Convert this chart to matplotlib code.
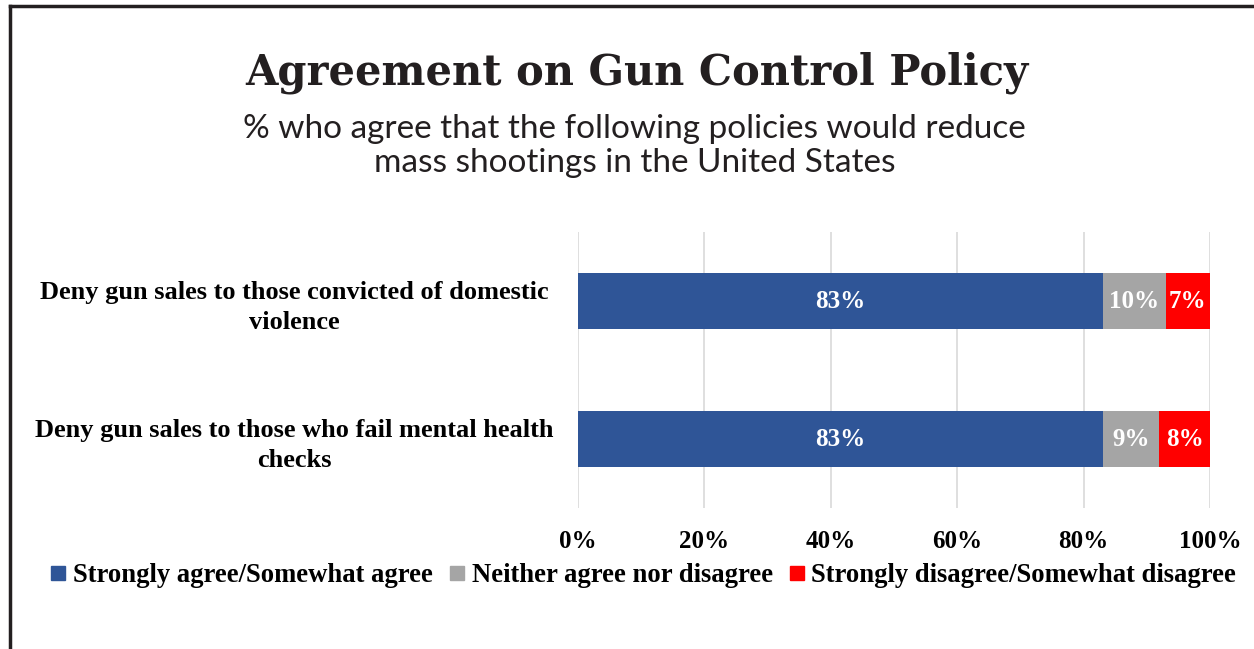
import matplotlib.pyplot as plt
from matplotlib.lines import Line2D
from matplotlib.ticker import PercentFormatter

# survey results, in percent
policies = ["Deny gun sales to those convicted of domestic\nviolence",
            "Deny gun sales to those who fail mental health\nchecks"]
agree = [83, 83]
neutral = [10, 9]
disagree = [7, 8]

series_names = ["Strongly agree/Somewhat agree",
                "Neither agree nor disagree",
                "Strongly disagree/Somewhat disagree"]
colors = ["#2F5597", "#A5A5A5", "#FF0000"]
ticks = [0, 20, 40, 60, 80, 100]

serif = ["Liberation Serif", "DejaVu Serif"]

fig = plt.figure(figsize=(12.54, 6.49), dpi=100)
ax = fig.add_axes([578 / 1254, 1 - 508 / 649, 632 / 1254, 276 / 649])

y = list(range(len(policies)))
left = [0] * len(policies)
for vals, name, col in zip([agree, neutral, disagree], series_names, colors):
    bars = ax.barh(y, vals, left=left, height=0.4, color=col, label=name, zorder=3)
    ax.bar_label(bars, labels=[f"{v}%" for v in vals], label_type="center",
                 color="white", fontsize=18, fontweight="bold", family=serif)
    left = [a + b for a, b in zip(left, vals)]

ax.set_xlim(0, 100)
ax.set_ylim(1.5, -0.5)
ax.set_xticks(ticks)
ax.xaxis.set_major_formatter(PercentFormatter(decimals=0))
ax.set_yticks(y)
ax.set_yticklabels(policies, ha="center", multialignment="center", linespacing=1.4)
ax.tick_params(axis="y", length=0, pad=204)
ax.tick_params(axis="x", length=0, pad=16)
for lab in ax.get_yticklabels() + ax.get_xticklabels():
    lab.set_family(serif)
    lab.set_fontweight("bold")
for lab in ax.get_yticklabels():
    lab.set_fontsize(19)
for lab in ax.get_xticklabels():
    lab.set_fontsize(18)

ax.grid(axis="x", color="#D9D9D9", linewidth=1.2, zorder=0)
for s in ax.spines.values():
    s.set_visible(False)

handles = [Line2D([], [], marker="s", linestyle="none", color=c, markersize=10)
           for c in colors]
fig.legend(handles, series_names, loc="center", bbox_to_anchor=(0.513, 1 - 576 / 649),
           ncol=3, frameon=False, handlelength=0.6, handletextpad=0.25, columnspacing=0.6,
           prop={"family": serif, "weight": "bold", "size": 19.2})

fig.text(0.508, 1 - 73 / 649, "Agreement on Gun Control Policy", ha="center", va="center",
         fontsize=30, fontweight="bold", family=["DejaVu Serif"], color="#231F20")
fig.text(0.506, 1 - 146 / 649,
         "% who agree that the following policies would reduce\nmass shootings in the United States",
         ha="center", va="center", fontsize=24, fontweight="normal",
         family=["Lato", "DejaVu Sans"], color="#231F20", linespacing=1.15)

# outer frame
fig.add_artist(Line2D([10 / 1254, 10 / 1254], [0, 1 - 6 / 649], color="#231F20",
                      linewidth=2.5, transform=fig.transFigure))
fig.add_artist(Line2D([10 / 1254, 1], [1 - 6 / 649, 1 - 6 / 649], color="#231F20",
                      linewidth=2.5, transform=fig.transFigure))

fig.savefig("out.png", dpi=100)
